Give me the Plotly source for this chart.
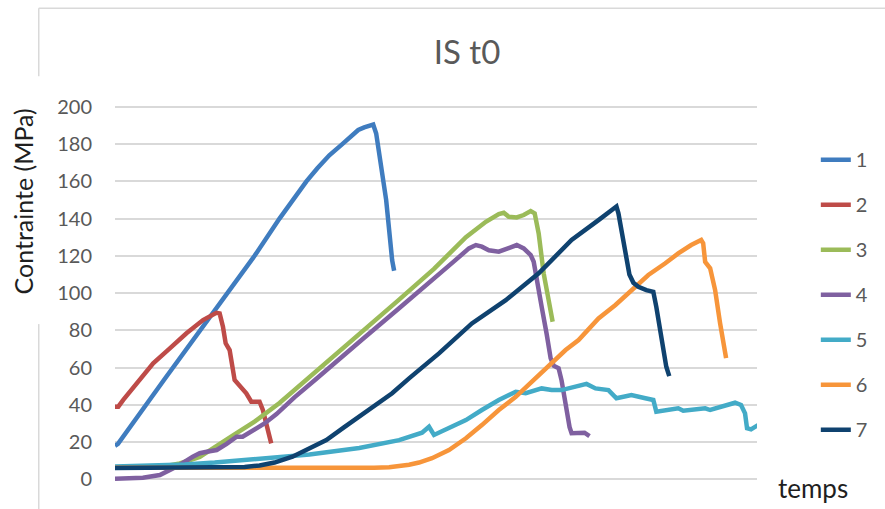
import plotly.graph_objects as go

# ---- data (x = time units, y = stress in MPa) ----
names = ["1", "2", "3", "4", "5", "6", "7"]
colors = ["#3F7CBF", "#BE4B48", "#9BBB59", "#7F60A0", "#43ABC7", "#F7953A", "#0F426F"]

t1 = [0, 3, 50, 113, 140, 165, 192, 203, 215, 228, 236, 244, 250, 259, 262, 267, 272, 278, 280]
c1 = [18, 19, 54, 100, 120, 140, 160, 167, 174, 180, 184.2, 187.6, 189, 190.5, 185.7, 168, 150, 117.7, 112]

t2 = [0, 3.3, 8.3, 21.7, 38.3, 55, 71.7, 88.3, 101.7, 105, 108.3, 111, 115, 120, 126.7, 131.7, 136.7, 145, 148.3, 153.3, 156.7]
c2 = [39, 39, 42.6, 51.5, 62.3, 70.3, 78.4, 85.5, 89.4, 89.1, 81.9, 73, 69.4, 53.3, 49.7, 46.2, 41.7, 41.7, 37.2, 26.5, 19.3]

t3 = [0, 50, 65, 85, 118, 140, 165, 200, 240, 285, 320, 352, 372, 385, 390, 395, 403, 410, 417, 421, 425, 430, 435, 439]
c3 = [6.5, 7, 8.5, 12, 23.5, 31, 41, 57, 75.5, 96.5, 113, 130, 138.3, 142.4, 143.1, 141, 140.6, 141.9, 144, 142.8, 132, 110.6, 96.2, 84.6]

t4 = [0, 28, 45, 62, 78, 85, 92, 102, 112, 122, 128, 135, 150, 162, 180, 200, 218, 250, 285, 318, 340, 355, 362, 368, 375,
      385, 395, 403, 410, 417, 420, 423, 428, 433, 437, 440, 445, 448, 452, 456, 458, 467, 471, 476]
c4 = [0.3, 0.8, 2.3, 6.8, 12.1, 14, 14.8, 15.7, 19, 22.9, 22.9, 25, 30, 35, 44, 53, 61, 76, 91.8, 106.5, 117, 124, 125.8, 124.9, 123,
      122.2, 124, 125.8, 124, 120.4, 116.8, 108.7, 92.6, 78, 65, 61, 59.6, 53, 40, 28, 24.7, 25.3, 25, 23.2]

t5 = [0, 40, 70, 100, 135, 160, 195, 245, 285, 308, 315, 320, 335, 352, 368, 385, 402, 412, 428, 438, 448, 468, 473, 482, 495,
      503, 518, 532, 540, 543, 555, 565, 570, 592, 597, 612, 622, 628, 632, 634, 638, 645]
c5 = [6.8, 7.3, 8, 9, 10.6, 11.8, 13.3, 16.8, 21, 25, 28.2, 23.8, 27.4, 31.8, 37.2, 42.6, 47, 46.2, 48.8, 47.9, 47.9, 50.6, 51.2, 48.8, 47.9,
      43.5, 45.2, 43.5, 42.6, 36.3, 37.2, 38.1, 36.8, 38.1, 37.2, 39.9, 41.1, 39.9, 35.4, 27.4, 26.8, 29.1]

t6 = [0, 100, 200, 260, 275, 285, 295, 305, 318, 335, 352, 368, 385, 402, 418, 435, 452, 465, 485, 502, 518, 535, 552, 565, 578, 588,
      590, 592, 597, 602, 607, 613]
c6 = [6.2, 6, 6, 6.2, 6.5, 7, 7.8, 9, 11.3, 15.7, 22, 29.1, 37.2, 44.3, 52.4, 61.3, 69.4, 74.8, 86.4, 93.6, 101.6, 109.7, 116, 121.3, 125.8, 128.5,
      126.7, 116.8, 113.3, 101.6, 83.7, 65]

t7 = [0, 50, 100, 130, 145, 160, 178, 195, 212, 230, 245, 262, 278, 295, 325, 358, 392, 425, 458, 485, 503, 505, 512, 516, 520, 525,
      533, 540, 543, 548, 553, 556]
c7 = [6, 6, 6.2, 6.6, 7.4, 9, 12.1, 16.5, 21.1, 28, 33.6, 40, 46.2, 54.2, 67.6, 83.7, 96.2, 110.6, 128.5, 139.2, 146.5, 142.8, 123, 110, 105.5, 103.4,
      101.6, 100.7, 92.6, 74.8, 60.4, 55.4]

y_ticks = [0, 20, 40, 60, 80, 100, 120, 140, 160, 180, 200]

series_t = [t1, t2, t3, t4, t5, t6, t7]
series_c = [c1, c2, c3, c4, c5, c6, c7]

FONT = "Lato"
fig = go.Figure()
for n, col, tx, cy in zip(names, colors, series_t, series_c):
    fig.add_trace(go.Scatter(x=tx, y=cy, mode="lines", name=n, legendgroup=n,
                             line=dict(color=col, width=4.5)))

# plot area: x 115..759, y 104.8..483
L, R, T, B = 115, 126, 104.8, 26
W, H = 885, 509
pw, ph = W - L - R, H - T - B

def px(x):
    return (x - L) / pw

def py(y):
    return (H - B - y) / ph

border = "#D9D9D9"
shapes = [
    dict(type="line", xref="paper", yref="paper", x0=px(38.5), x1=px(900), y0=py(8), y1=py(8),
         line=dict(color=border, width=1.5)),
    dict(type="line", xref="paper", yref="paper", x0=px(38.5), x1=px(38.5), y0=py(8), y1=py(76),
         line=dict(color=border, width=1.5)),
    dict(type="line", xref="paper", yref="paper", x0=px(38.5), x1=px(38.5), y0=py(324), y1=py(520),
         line=dict(color=border, width=1.5)),
]

fig.update_layout(
    width=W, height=H,
    margin=dict(l=L, r=R, t=T, b=B),
    paper_bgcolor="white", plot_bgcolor="white",
    font=dict(family=FONT, color="#595959", size=20),
    title=dict(text="IS t0", x=467 / W, xanchor="center", y=1 - 52 / H, yanchor="middle",
               font=dict(family=FONT, size=33, color="#595959")),
    xaxis=dict(range=[0, 644], showgrid=False, showticklabels=False, zeroline=False,
               showline=False, ticks=""),
    yaxis=dict(range=[-2, 201], tickvals=y_ticks, showgrid=True, gridcolor="#D9D9D9", gridwidth=1.5,
               zeroline=False, showline=False, ticks="", ticklabelstandoff=22,
               tickfont=dict(family=FONT, size=20, color="#595959")),
    legend=dict(x=px(818), xanchor="left", y=py(140), yanchor="top",
                tracegroupgap=16, font=dict(family=FONT, size=20, color="#595959"),
                bgcolor="rgba(0,0,0,0)"),
    shapes=shapes,
    annotations=[
        dict(text="Contrainte (MPa)", xref="paper", yref="paper", x=px(23), y=py(201),
             textangle=-90, showarrow=False, xanchor="center", yanchor="middle",
             font=dict(family=FONT, size=25, color="#1F1F1F")),
        dict(text="temps", xref="paper", yref="paper", x=px(815), y=py(488),
             showarrow=False, xanchor="center", yanchor="middle",
             font=dict(family=FONT, size=26, color="#1F1F1F")),
    ],
)

fig.write_html("out.html", config={"displayModeBar": False},
               post_script="document.body.style.margin='0';document.body.style.overflow='hidden';")
